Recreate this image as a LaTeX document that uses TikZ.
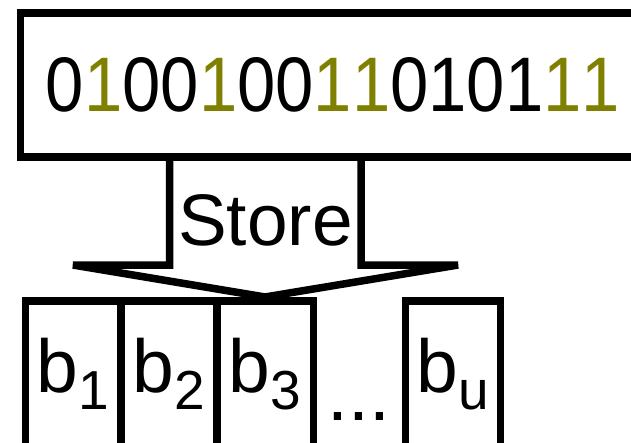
\documentclass[tikz,border=0pt]{standalone}
\usepackage{fontspec}
\setmainfont{Liberation Sans}
\definecolor{bitolive}{HTML}{808000}
\newcommand{\one}{\textcolor{bitolive}{1}}
\newcommand{\subs}[1]{\raisebox{-17pt}{\fontsize{55}{60}\selectfont #1}}
\begin{document}
\begin{tikzpicture}[x=1pt,y=-1pt,line join=miter,
  thick line/.style={draw,line width=7.5pt},
  big/.style={font=\fontsize{75}{80}\selectfont,inner sep=0pt,anchor=base},
  storelabel/.style={font=\fontsize{73}{78}\selectfont,inner sep=0pt,anchor=base}]
\useasboundingbox (0,0) rectangle (631,442);
\clip (0,0) rectangle (631,442);

% bit string box (runs off the right edge)
\draw[thick line] (20.5,13) rectangle (660,157);
\node[big] (bits) at (333,111)
  {\resizebox{574pt}{54pt}{0\one00\one00\one\one0101\one\one}};

% block arrow labelled Store
\draw[thick line] (169.5,157) -- (169.5,265) -- (73,265) -- (265,297)
  -- (458,265) -- (361,265) -- (361,157);
\node[storelabel] (store) at (265.5,245) {Store};

% storage blocks (run off the bottom edge)
\draw[thick line] (25.5,301) rectangle (121,460);
\draw[thick line] (121,301) rectangle (217,460);
\draw[thick line] (217,301) rectangle (313.5,460);
\draw[thick line] (405.5,301) rectangle (500.5,460);

\node[big] (b1) at (73,392) {b\subs{1}};
\node[big] (b2) at (169,392) {b\subs{2}};
\node[big] (b3) at (265,392) {b\subs{3}};
\node[big] (dots) at (359,420) {...};
\node[big] (bu) at (453,392) {b\subs{u}};
\end{tikzpicture}
\end{document}
